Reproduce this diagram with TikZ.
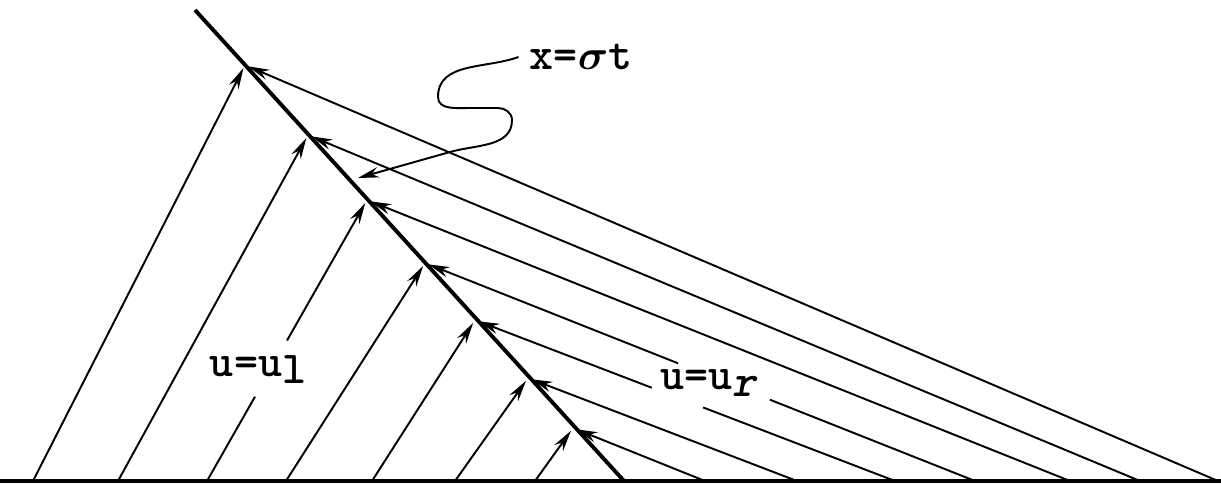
\documentclass[tikz,border=0pt]{standalone}
\usepackage{amsmath,amssymb}
\usetikzlibrary{arrows.meta,calc}

\begin{document}
\begin{tikzpicture}[x=0.01cm,y=0.01cm,>={Stealth[length=6pt,width=3pt]},
  charline/.style={line width=0.55pt},
  chararrow/.style={line width=0.55pt,->,shorten >=1pt},
  lbl/.style={font=\ttfamily\bfseries\fontsize{13}{15}\selectfont,inner sep=3pt}]
\useasboundingbox (0,0) rectangle (1221,485);

% axis and shock
\coordinate (O) at (0,4);
\coordinate (E) at (1221,4);
\coordinate (S0) at (195,475);
\coordinate (S1) at (624,4);

% points on the shock
\coordinate (P1) at (245,420);
\coordinate (P2) at (308,350);
\coordinate (P3) at (367,285);
\coordinate (P4) at (425,222);
\coordinate (P5) at (475,165);
\coordinate (P6) at (528,107);
\coordinate (P7) at (573,57);

% feet of the characteristics
\coordinate (L1) at (33,4);
\coordinate (L2) at (118,4);
\coordinate (L3) at (207,4);
\coordinate (L4) at (286,4);
\coordinate (L5) at (372,4);
\coordinate (L6) at (455,4);
\coordinate (L7) at (535,4);
\coordinate (R1) at (1218,4);
\coordinate (R2) at (1140,4);
\coordinate (R3) at (1070,4);
\coordinate (R4) at (975,4);
\coordinate (R5) at (895,4);
\coordinate (R6) at (797,4);
\coordinate (R7) at (705,4);

\node[lbl] (ul) at (258,115) {u=u\raisebox{-2pt}{l}};
\node[lbl] (ur) at (708,102) {u=u\raisebox{-2pt}{\itshape r}};
\node[lbl] (sig) at (581,428) {x=$\boldsymbol{\sigma}$t};
\coordinate (tip) at (358,307);

\draw[line width=0.9pt] (O) -- (E);
\draw[line width=1.1pt] (S0) -- (S1);

% left state
\draw[chararrow] (L1) -- (P1);
\draw[chararrow] (L2) -- (P2);
\draw[charline] (L3) -- ($(L3)!0.3!(P3)$);
\draw[chararrow] ($(L3)!0.5!(P3)$) -- (P3);
\draw[chararrow] (L4) -- (P4);
\draw[chararrow] (L5) -- (P5);
\draw[chararrow] (L6) -- (P6);
\draw[chararrow] (L7) -- (P7);

% right state
\draw[chararrow] (R1) -- (P1);
\draw[chararrow] (R2) -- (P2);
\draw[chararrow] (R3) -- (P3);
\draw[charline] (R4) -- ($(R4)!0.373!(P4)$);
\draw[chararrow] ($(R4)!0.54!(P4)$) -- (P4);
\draw[charline] (R5) -- ($(R5)!0.457!(P5)$);
\draw[chararrow] ($(R5)!0.579!(P5)$) -- (P5);
\draw[chararrow] (R6) -- (P6);
\draw[chararrow] (R7) -- (P7);

\draw[line width=0.55pt,->] (sig.west) to[out=200,in=90] (438,388)
  to[out=-90,in=180] (470,377) -- (498,377) to[out=0,in=90] (512,365)
  to[out=-90,in=16] (450,333) -- (tip);
\end{tikzpicture}
\end{document}
